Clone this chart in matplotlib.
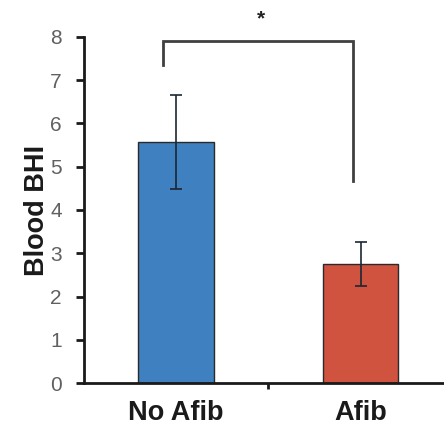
import numpy as np
import matplotlib
matplotlib.use('Agg')
import matplotlib.pyplot as plt

plt.rcParams['font.family'] = ['Liberation Sans', 'DejaVu Sans']

# Blood BHI by group
groups = ['No Afib', 'Afib']
means = [5.57, 2.76]
errors = [1.08, 0.51]
colors = ['#3F80C0', '#D0533F']

# significance bracket levels
bracket_top = 7.91
bracket_left_end = 7.35
bracket_right_end = 4.66
sig_label = '*'

fig = plt.figure(figsize=(4.44, 4.29), dpi=100)
ax = fig.add_axes([0.189, 0.107, 0.831, 0.807])

x = np.arange(len(groups))
ax.bar(x, means, width=0.41, color=colors, edgecolor='#2a2a2a', linewidth=1.0, zorder=2)
ax.errorbar(x, means, yerr=errors, fmt='none', ecolor='#1c2633',
            elinewidth=1.2, capsize=4, capthick=1.2, zorder=3)

# bracket between the two groups
bx = [x[0] - 0.07, x[0] - 0.07, x[1] - 0.04, x[1] - 0.04]
by = [bracket_left_end, bracket_top, bracket_top, bracket_right_end]
ax.plot(bx, by, color='#404040', linewidth=2.0, solid_joinstyle='miter', zorder=3)
ax.text(0.46, 8.42, sig_label, ha='center', va='center', fontsize=15,
        fontweight='bold', color='#222222', clip_on=False)

ax.set_xlim(-0.5, 1.5)
ax.set_ylim(0, 8)
ax.set_yticks(range(0, 9))

ax.spines['top'].set_visible(False)
ax.spines['right'].set_visible(False)
ax.spines['left'].set_linewidth(2.0)
ax.spines['bottom'].set_linewidth(2.0)
ax.spines['left'].set_color('#1a1a1a')
ax.spines['bottom'].set_color('#1a1a1a')

ax.tick_params(axis='y', direction='out', length=6, width=2.0, color='#1a1a1a',
               labelsize=15, labelcolor='#606060', pad=10)
ax.set_xticks([0.5])
ax.set_xticklabels([''])
ax.tick_params(axis='x', direction='out', length=4, width=2.0, color='#1a1a1a')

for xi, g in zip(x, groups):
    ax.text(xi, -0.7, g, ha='center', va='center', fontsize=19.5,
            fontweight='bold', color='#1a1a1a', clip_on=False)

ax.set_ylabel('Blood BHI', fontsize=19.5, fontweight='bold', color='#1a1a1a', labelpad=0)

fig.savefig('out.png', dpi=100)
